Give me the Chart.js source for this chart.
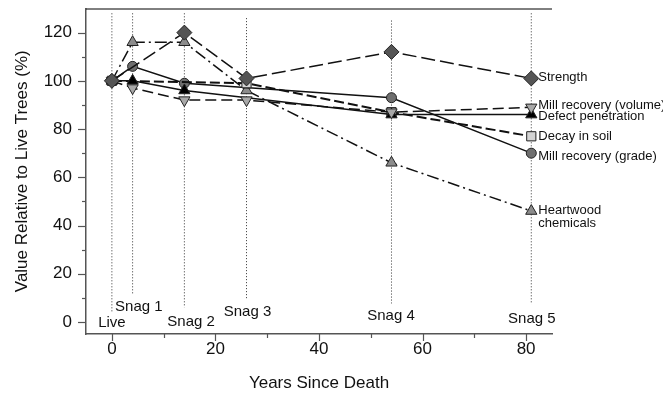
<!DOCTYPE html>
<html>
<head>
<meta charset="utf-8">
<style>
  html, body { margin: 0; padding: 0; background: #fff; }
  #wrap { width: 663px; height: 394px; }
</style>
<script src="https://cdn.jsdelivr.net/npm/chart.js@4/dist/chart.umd.min.js"></script>
</head>
<body>
<div id="wrap"><canvas id="chart" width="663" height="394"></canvas></div>
<script>
(function () {
  'use strict';

  // years since death for live tree and snag classes 1-5
  const YEARS = [0, 4, 14, 26, 54, 81];
  const SNAG_NAMES = ['Live', 'Snag 1', 'Snag 2', 'Snag 3', 'Snag 4', 'Snag 5'];

  // values relative to live trees (%), null = not measured
  const STRENGTH = [100, null, 120, 101, 112, 101];
  const MILL_VOLUME = [100, 97, 92, 92, 87, 89];
  const DEFECT = [100, 100, 96, null, 86, 86];
  const DECAY_SOIL = [100, null, null, 99, 87, 77];
  const MILL_GRADE = [100, 106, 99, null, 93, 70];
  const HEARTWOOD = [100, 116, 116, 96, 66, 46];

  const X_TICKS = [0, 20, 40, 60, 80];
  const Y_TICKS = [0, 20, 40, 60, 80, 100, 120];

  // dotted marker lines (value range) and snag label anchors
  const VLINE_TOP = [128, 128, 128, 126, 125, 128];
  const VLINE_BOTTOM = [4.4, 11.4, 6, 9.8, 7.7, 7.3];
  const SNAG_LABEL_X = [0, 5.2, 15.3, 26.2, 53.9, 81.1];
  const SNAG_LABEL_Y = [-0.5, 6.1, 0, 4.1, 2.4, 1.1];

  const FONT = 'Arial, "Liberation Sans", sans-serif';

  function pts(arr) {
    return YEARS.map(function (x, i) { return { x: x, y: arr[i] }; });
  }

  var vlineData = [];
  YEARS.forEach(function (x, i) {
    vlineData.push({ x: x, y: VLINE_TOP[i] });
    vlineData.push({ x: x, y: VLINE_BOTTOM[i] });
    vlineData.push({ x: x, y: null });
  });

  var series = [
    { label: 'Strength', data: STRENGTH, style: 'rectRot', radius: 7.5, fill: '#555555', dash: [14, 5], labelY: [101.5], text: ['Strength'] },
    { label: 'Mill recovery (volume)', data: MILL_VOLUME, style: 'triangle', rotation: 180, radius: 6.5, fill: '#a8a8a8', dash: [11, 5], labelY: [90], text: ['Mill recovery (volume)'] },
    { label: 'Defect penetration', data: DEFECT, style: 'triangle', radius: 6.5, fill: '#000000', dash: [], labelY: [85.4], text: ['Defect penetration'] },
    { label: 'Decay in soil', data: DECAY_SOIL, style: 'rect', radius: 6.5, fill: '#d4d4d4', dash: [10, 4], width: 2, labelY: [76.9], text: ['Decay in soil'] },
    { label: 'Mill recovery (grade)', data: MILL_GRADE, style: 'circle', radius: 5, fill: '#6e6e6e', dash: [], labelY: [68.5], text: ['Mill recovery (grade)'] },
    { label: 'Heartwood chemicals', data: HEARTWOOD, style: 'triangle', radius: 6.5, fill: '#8c8c8c', dash: [12, 4, 2, 4], labelY: [46.3, 40.7], text: ['Heartwood', 'chemicals'] }
  ];

  var datasets = series.map(function (s, i) {
    return {
      label: s.label,
      data: pts(s.data),
      borderColor: '#111',
      borderWidth: s.width || 1.5,
      borderDash: s.dash,
      spanGaps: true,
      pointStyle: s.style,
      pointRotation: s.rotation || 0,
      pointRadius: s.radius,
      pointBackgroundColor: s.fill,
      pointBorderColor: '#222',
      pointBorderWidth: 1,
      order: i + 1
    };
  });

  datasets.push({
    label: 'snag lines',
    data: vlineData,
    borderColor: '#333',
    borderWidth: 1,
    borderDash: [1, 2],
    pointRadius: 0,
    spanGaps: false,
    order: 50
  });

  var annotatePlugin = {
    id: 'annotate',
    afterDraw: function (chart) {
      var ctx = chart.ctx;
      var xs = chart.scales.x;
      var ys = chart.scales.y;
      var area = chart.chartArea;
      ctx.save();

      // top frame line
      ctx.strokeStyle = '#000';
      ctx.lineWidth = 1;
      ctx.beginPath();
      ctx.moveTo(area.left, area.top + 0.5);
      ctx.lineTo(area.right, area.top + 0.5);
      ctx.stroke();

      // tick marks, major and minor
      ctx.strokeStyle = '#555';
      ctx.lineWidth = 1.2;
      for (var v = 0; v <= 120; v += 10) {
        var py = Math.round(ys.getPixelForValue(v)) + 0.5;
        var len = v % 20 === 0 ? 8 : 4;
        ctx.beginPath();
        ctx.moveTo(area.left - len, py);
        ctx.lineTo(area.left, py);
        ctx.stroke();
      }
      for (var u = 0; u <= 80; u += 10) {
        var px = Math.round(xs.getPixelForValue(u)) + 0.5;
        var l2 = u % 20 === 0 ? 7 : 4;
        ctx.beginPath();
        ctx.moveTo(px, area.bottom);
        ctx.lineTo(px, area.bottom + l2);
        ctx.stroke();
      }

      // snag labels
      ctx.fillStyle = '#111';
      ctx.font = '15px ' + FONT;
      ctx.textAlign = 'center';
      ctx.textBaseline = 'middle';
      SNAG_NAMES.forEach(function (name, i) {
        ctx.fillText(name, xs.getPixelForValue(SNAG_LABEL_X[i]), ys.getPixelForValue(SNAG_LABEL_Y[i]));
      });

      // series labels at the right end
      ctx.font = '13px ' + FONT;
      ctx.textAlign = 'left';
      var lastX = xs.getPixelForValue(YEARS[YEARS.length - 1]) + 7;
      series.forEach(function (s) {
        s.text.forEach(function (t, k) {
          ctx.fillText(t, lastX, ys.getPixelForValue(s.labelY[k]));
        });
      });
      ctx.restore();
    }
  };

  new Chart(document.getElementById('chart'), {
    type: 'line',
    data: { datasets: datasets },
    options: {
      responsive: false,
      animation: false,
      layout: { padding: { top: 8, right: 111, left: 0, bottom: 0 } },
      plugins: {
        legend: { display: false },
        tooltip: { enabled: false }
      },
      scales: {
        x: {
          type: 'linear',
          min: -5,
          max: 85,
          afterFit: function (scale) {
            scale.height = 60;
            scale.paddingLeft = 0;
            scale.paddingRight = 0;
          },
          afterBuildTicks: function (scale) { scale.ticks = X_TICKS.map(function (v) { return { value: v }; }); },
          grid: { display: false, drawTicks: false },
          border: { display: true, color: '#555', width: 1.5 },
          ticks: { padding: 5, color: '#111', font: { size: 17, family: FONT } },
          title: { display: true, text: 'Years Since Death', color: '#111', padding: { top: 0, bottom: 0 }, font: { size: 17, family: FONT } }
        },
        y: {
          type: 'linear',
          min: -5,
          max: 130,
          afterFit: function (scale) {
            scale.width = 86;
            scale.paddingTop = 0;
            scale.paddingBottom = 0;
          },
          afterBuildTicks: function (scale) { scale.ticks = Y_TICKS.map(function (v) { return { value: v }; }); },
          grid: { display: false, drawTicks: false },
          border: { display: true, color: '#555', width: 1.5 },
          ticks: { padding: 14, color: '#111', font: { size: 17, family: FONT } },
          title: { display: true, text: 'Value Relative to Live Trees (%)', color: '#111', padding: { top: 12, bottom: 0 }, font: { size: 17, family: FONT } }
        }
      }
    },
    plugins: [annotatePlugin]
  });
})();
</script>
</body>
</html>
